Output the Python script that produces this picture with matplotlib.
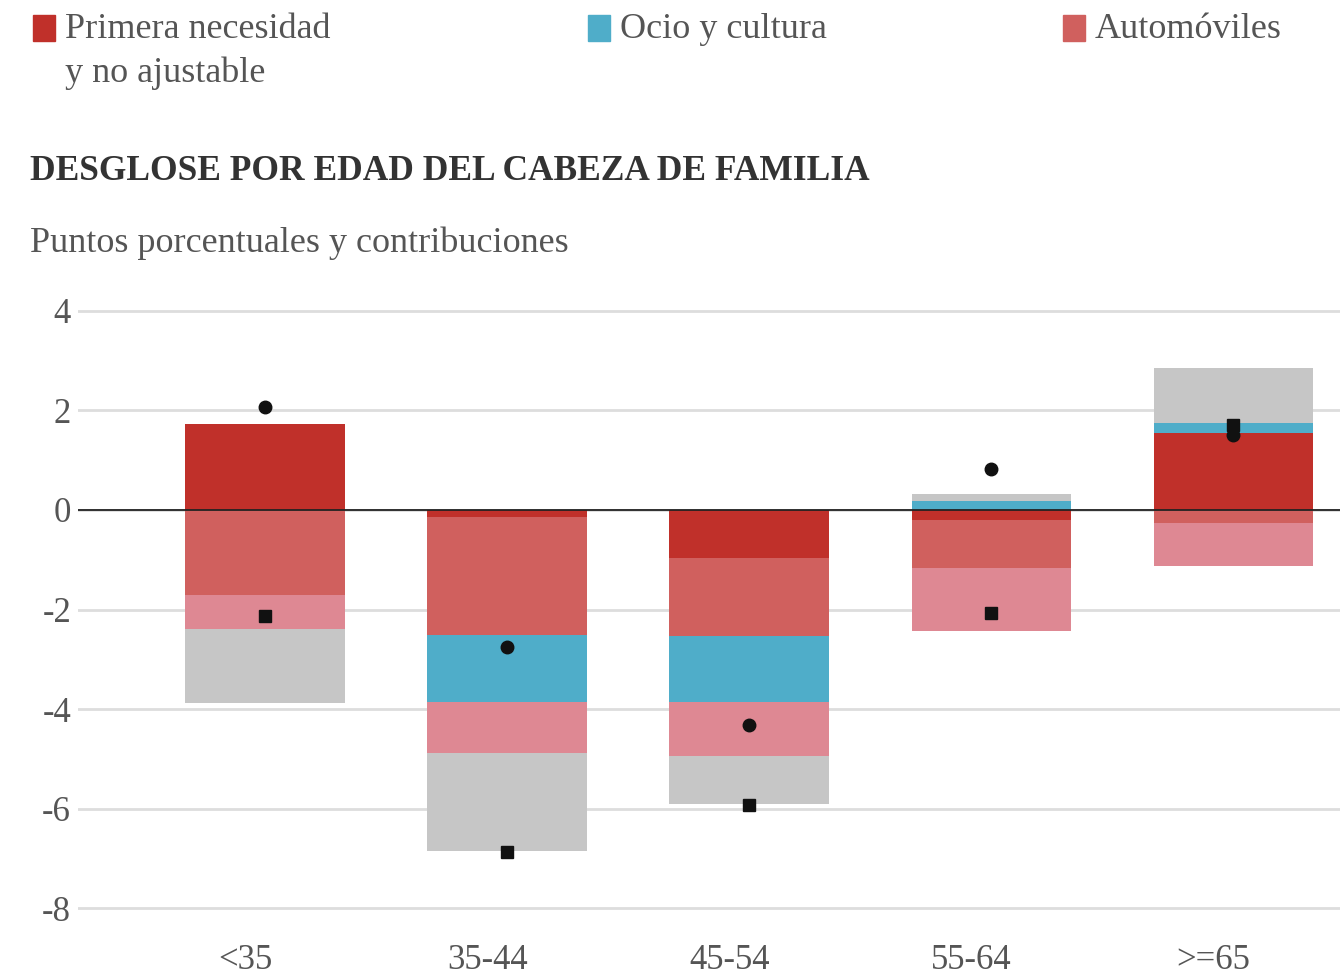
import numpy as np
import matplotlib.pyplot as plt
import matplotlib.transforms as mtransforms
from matplotlib.patches import Rectangle

# Datos por edad del cabeza de familia (puntos porcentuales)
categorias = ['<35', '35-44', '45-54', '55-64', '>=65']
primera = [1.72, -0.15, -0.97, -0.20, 1.55]
automoviles = [-1.70, -2.37, -1.56, -0.97, -0.27]
ocio = [0.0, -1.34, -1.33, 0.18, 0.20]
otros_rosa = [-0.70, -1.02, -1.08, -1.26, -0.85]
otros_gris = [-1.48, -1.97, -0.96, 0.15, 1.10]
circulos = [2.07, -2.75, -4.32, 0.82, 1.50]
cuadrados = [-2.13, -6.87, -5.92, -2.07, 1.70]

series = [primera, automoviles, ocio, otros_rosa, otros_gris]
colores = ['#C0302A', '#D0605E', '#4FADC9', '#DE8893', '#C6C6C6']

plt.rcParams['font.family'] = ['Liberation Serif', 'DejaVu Serif']

fig = plt.figure(figsize=(13.4, 9.8), dpi=100)
ax = fig.add_axes([78 / 1340, 62 / 980, 1 - 78 / 1340, 612 / 980])

x = np.arange(len(categorias))
pos = np.zeros(len(categorias))
neg = np.zeros(len(categorias))
for valores, color in zip(series, colores):
    v = np.array(valores)
    base = np.where(v >= 0, pos, neg)
    ax.bar(x, v, bottom=base, width=0.66, color=color, zorder=2)
    pos = pos + np.where(v > 0, v, 0)
    neg = neg + np.where(v < 0, v, 0)

ax.plot(x, circulos, 'o', color='#111111', markersize=9, zorder=3)
ax.plot(x, cuadrados, 's', color='#111111', markersize=8.5, zorder=3)

ax.axhline(0, color='#222222', linewidth=1.3, zorder=2.5)
ax.set_ylim(-8.2, 4.1)
ax.set_xlim(-0.773, 4.44)
ax.set_yticks([4, 2, 0, -2, -4, -6, -8])
ax.set_yticklabels(['4', '2', '0', '-2', '-4', '-6', '-8'])
ax.grid(axis='y', color='#DDDDDD', linewidth=2, zorder=0)
ax.set_xticks(x)
ax.set_xticklabels(categorias)
ax.tick_params(length=0, labelsize=25, labelcolor='#555555')
ax.tick_params(axis='x', pad=19)
ax.tick_params(axis='y', pad=5)
offset = mtransforms.ScaledTranslation(-0.2, 0, fig.dpi_scale_trans)
for lab in ax.get_xticklabels():
    lab.set_transform(lab.get_transform() + offset)
for s in ax.spines.values():
    s.set_visible(False)

# Leyenda
leyenda = [('Primera necesidad\ny no ajustable', colores[0], 33),
           ('Ocio y cultura', colores[2], 588),
           ('Automóviles', colores[1], 1063)]
for texto, color, px in leyenda:
    fig.patches.append(Rectangle((px / 1340, 1 - 41 / 980), 22 / 1340, 26 / 980,
                                 transform=fig.transFigure, color=color))
    fig.text((px + 32) / 1340, 1 - 13 / 980, texto, fontsize=26, color='#555555',
             va='top', ha='left', linespacing=1.4)

fig.text(30 / 1340, 1 - 172 / 980, 'DESGLOSE POR EDAD DEL CABEZA DE FAMILIA',
         fontsize=25.5, fontweight='bold', color='#333333', va='center')
fig.text(30 / 1340, 1 - 243 / 980, 'Puntos porcentuales y contribuciones',
         fontsize=26, color='#555555', va='center')

fig.savefig('out.png', dpi=100)
